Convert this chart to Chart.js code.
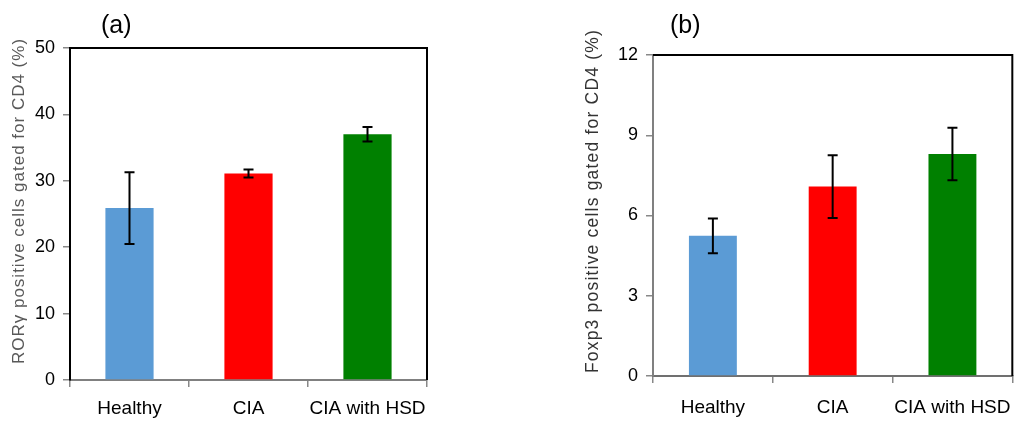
<!DOCTYPE html>
<html><head><meta charset="utf-8">
<script src="https://cdn.jsdelivr.net/npm/chart.js@4.4.1/dist/chart.umd.min.js"></script>
<style>
body{margin:0;background:#fff;width:1024px;height:421px;overflow:hidden;position:relative;font-family:"Liberation Sans",Arial,sans-serif}
canvas{position:absolute;top:0}
#ca{left:0}
#cb{left:560px}
.lbl{position:absolute;font-size:25px;line-height:25px;color:#000;font-family:"Liberation Sans",Arial,sans-serif}
</style></head><body>
<canvas id="ca" width="460" height="421"></canvas>
<canvas id="cb" width="464" height="421"></canvas>
<div class="lbl" style="left:101px;top:12px">(a)</div>
<div class="lbl" style="left:670px;top:12px">(b)</div>
<script>
const categories = ['Healthy', 'CIA', 'CIA with HSD'];
const rorMeans = [25.9, 31.1, 37.0];
const rorErrors = [5.4, 0.6, 1.1];
const foxpMeans = [5.24, 7.08, 8.3];
const foxpErrors = [0.65, 1.17, 0.98];
const rorTicks = [0, 10, 20, 30, 40, 50];
const foxpTicks = [0, 3, 6, 9, 12];
const barColors = ['#5B9BD5', '#FF0000', '#008000'];
const rorTitle = 'RORγ positive cells gated for CD4 (%)';
const foxpTitle = 'Foxp3 positive cells gated for CD4 (%)';

const FONT = '"Liberation Sans", Arial, sans-serif';

const errorBarPlugin = {
  id: 'errbars',
  afterDatasetsDraw(chart, args, opts) {
    const ctx = chart.ctx;
    const meta = chart.getDatasetMeta(0);
    const ys = chart.scales.y;
    const means = chart.data.datasets[0].data;
    ctx.save();
    ctx.strokeStyle = '#000';
    ctx.lineWidth = 2;
    meta.data.forEach((bar, i) => {
      const e = opts.errors[i];
      const x = bar.x;
      const yt = ys.getPixelForValue(means[i] + e);
      const yb = ys.getPixelForValue(means[i] - e);
      ctx.beginPath();
      ctx.moveTo(x, yt); ctx.lineTo(x, yb);
      ctx.moveTo(x - 5, yt); ctx.lineTo(x + 5, yt);
      ctx.moveTo(x - 5, yb); ctx.lineTo(x + 5, yb);
      ctx.stroke();
    });
    ctx.restore();
  }
};

const framePlugin = {
  id: 'frame',
  afterDraw(chart) {
    const {top, right, left, bottom} = chart.chartArea;
    const ctx = chart.ctx;
    ctx.save();
    ctx.strokeStyle = '#000';
    ctx.lineWidth = 2;
    ctx.beginPath();
    ctx.moveTo(left, top); ctx.lineTo(right, top); ctx.lineTo(right, bottom);
    ctx.stroke();
    ctx.restore();
  }
};

const yTitlePlugin = {
  id: 'ytitle',
  afterDraw(chart, args, opts) {
    const ctx = chart.ctx;
    ctx.save();
    ctx.translate(opts.x, opts.y);
    ctx.rotate(-Math.PI / 2);
    ctx.font = opts.font;
    if ('letterSpacing' in ctx) ctx.letterSpacing = opts.spacing;
    ctx.fillStyle = opts.color;
    ctx.textAlign = 'center';
    ctx.textBaseline = 'middle';
    ctx.fillText(opts.text, 0, 0);
    ctx.restore();
  }
};

function makeChart(id, means, errors, ticks, cfg) {
  return new Chart(document.getElementById(id), {
    type: 'bar',
    data: {
      labels: categories,
      datasets: [{
        data: means,
        backgroundColor: barColors,
        borderWidth: 0,
        categoryPercentage: 1,
        barPercentage: cfg.barPct
      }]
    },
    options: {
      responsive: false,
      animation: false,
      layout: { padding: cfg.padding },
      plugins: {
        legend: { display: false },
        tooltip: { enabled: false },
        errbars: { errors: errors },
        ytitle: cfg.title
      },
      scales: {
        x: {
          grid: { offset: true, drawOnChartArea: false, drawTicks: true, tickLength: 7, color: '#888', lineWidth: 1.5 },
          border: { display: true, color: cfg.xBorder, width: 2 },
          ticks: { color: '#000', font: { family: FONT, size: 19 }, padding: cfg.xPad, maxRotation: 0, autoSkip: false },
          afterFit(axis) { axis.height = cfg.xHeight; }
        },
        y: {
          min: ticks[0],
          max: ticks[ticks.length - 1],
          afterBuildTicks(axis) { axis.ticks = ticks.map(v => ({ value: v })); },
          grid: { drawOnChartArea: false, drawTicks: true, tickLength: 7, color: '#888', lineWidth: 1.5 },
          border: { display: true, color: cfg.yBorder, width: 2 },
          ticks: { color: '#000', font: { family: FONT, size: 18 }, padding: cfg.yPad },
          afterFit(axis) { axis.width = cfg.yWidth; }
        }
      }
    },
    plugins: [errorBarPlugin, framePlugin, yTitlePlugin]
  });
}

makeChart('ca', rorMeans, rorErrors, rorTicks, {
  barPct: 0.405,
  padding: { left: 0, top: 48, right: 33, bottom: 0 },
  xHeight: 41, yWidth: 70, xPad: 10, yPad: 8,
  xBorder: '#808080', yBorder: '#000',
  title: { text: rorTitle, x: 19, y: 201, font: '17px ' + FONT, spacing: '1px', color: '#595959' }
});

makeChart('cb', foxpMeans, foxpErrors, foxpTicks, {
  barPct: 0.40,
  padding: { left: 0, top: 55, right: 3, bottom: 0 },
  xHeight: 45, yWidth: 93, xPad: 13, yPad: 8,
  xBorder: '#707070', yBorder: '#808080',
  title: { text: foxpTitle, x: 33, y: 201, font: '17.5px ' + FONT, spacing: '1.2px', color: '#333' }
});
</script>
</body></html>
